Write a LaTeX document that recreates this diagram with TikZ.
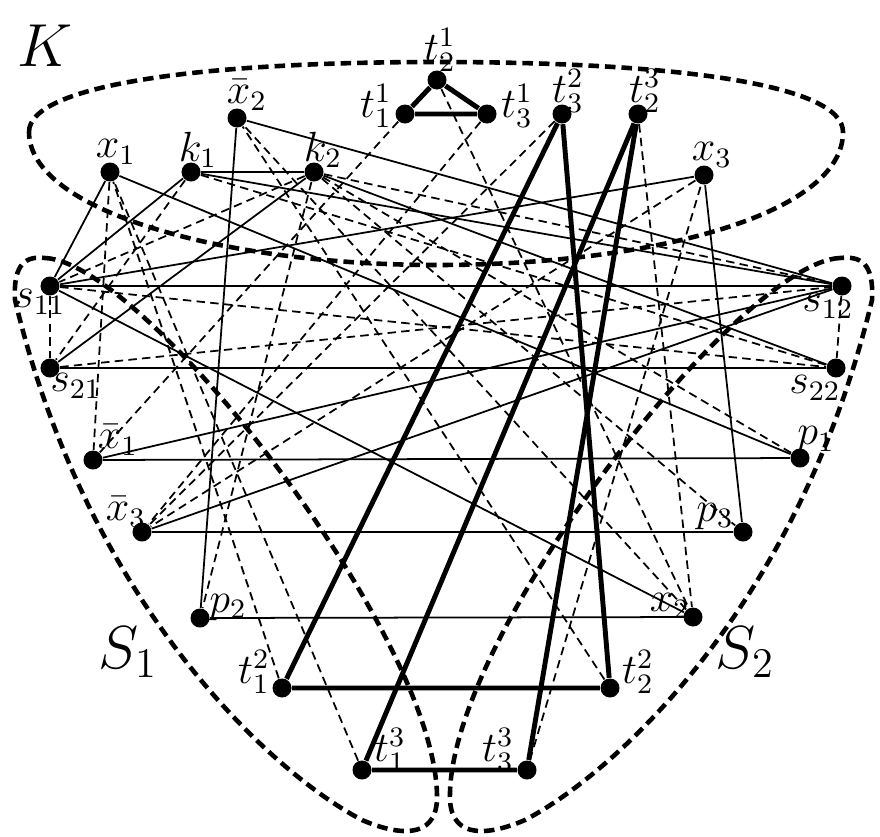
\documentclass[tikz,border=0pt]{standalone}
\usepackage{amsmath,amssymb}
\usetikzlibrary{positioning}

\begin{document}
\begin{tikzpicture}[x=0.01cm,y=-0.01cm,
  vtx/.style={circle,fill=black,inner sep=0pt,minimum size=0.19cm},
  lbl/.style={inner sep=0pt,font=\large},
  big/.style={inner sep=0pt,font=\LARGE},
  sol/.style={line width=0.5pt},
  dsh/.style={line width=0.5pt,dash pattern=on 2.4pt off 1.5pt},
  thk/.style={line width=1.4pt},
  region/.style={line width=1.3pt,dash pattern=on 3pt off 1.7pt}]
\useasboundingbox (0,0) rectangle (880,836);

% the three parts
\draw[region] (29,132) .. controls (29,85) and (200,62) .. (437,62)
  .. controls (680,62) and (843,85) .. (843,132)
  .. controls (843,215) and (650,265) .. (437,265)
  .. controls (220,265) and (29,210) .. (29,132) -- cycle;
\draw[region] (45,258) .. controls (145,262) and (440,640) .. (437,800)
  .. controls (435,840) and (397,835) .. (362,820)
  .. controls (267,770) and (87,600) .. (15,300)
  .. controls (13,262) and (27,256) .. (45,258) -- cycle;
\draw[region] (840,258) .. controls (740,262) and (445,640) .. (450,800)
  .. controls (452,840) and (490,835) .. (525,820)
  .. controls (620,770) and (800,600) .. (872,300)
  .. controls (874,262) and (860,256) .. (840,258) -- cycle;
\node[big] (lK) at (45,46) {$K$};
\node[big] (lS1) at (128,652) {$S_1$};
\node[big] (lS2) at (745,652) {$S_2$};

% vertices
\node[vtx] (t21) at (437,80) {};
\node[vtx] (t11) at (405,114) {};
\node[vtx] (t31) at (487,114) {};
\node[vtx] (nx2) at (237,118) {};
\node[vtx] (t32) at (562,114) {};
\node[vtx] (t23) at (638,114) {};
\node[vtx] (x1) at (110,172) {};
\node[vtx] (k1) at (191,172) {};
\node[vtx] (k2) at (314,172) {};
\node[vtx] (x3) at (704,175) {};
\node[vtx] (s11) at (50,286) {};
\node[vtx] (s12) at (842,286) {};
\node[vtx] (s21) at (50,368) {};
\node[vtx] (s22) at (836,368) {};
\node[vtx] (nx1) at (93,460) {};
\node[vtx] (p1) at (800,458) {};
\node[vtx] (nx3) at (142,532) {};
\node[vtx] (p3) at (743,532) {};
\node[vtx] (p2) at (200,618) {};
\node[vtx] (x2) at (693,617) {};
\node[vtx] (t12) at (282,688) {};
\node[vtx] (t22) at (610,688) {};
\node[vtx] (t13) at (362,770) {};
\node[vtx] (t33) at (527,770) {};

% labels
\node[lbl] at (440,50) {$t^1_2$};
\node[lbl] at (376,106) {$t^1_1$};
\node[lbl] at (517,106) {$t^1_3$};
\node[lbl] at (247,95) {$\bar{x}_2$};
\node[lbl] at (568,91) {$t^2_3$};
\node[lbl] at (645,91) {$t^3_2$};
\node[lbl] at (116,152) {$x_1$};
\node[lbl] at (198,150) {$k_1$};
\node[lbl] at (323,150) {$k_2$};
\node[lbl] at (712,155) {$x_3$};
\node[lbl] at (40,302) {$s_{11}$};
\node[lbl] at (828,306) {$s_{12}$};
\node[lbl] at (76,386) {$s_{21}$};
\node[lbl] at (815,388) {$s_{22}$};
\node[lbl] at (118,440) {$\bar{x}_1$};
\node[lbl] at (816,440) {$p_1$};
\node[lbl] at (126,512) {$\bar{x}_3$};
\node[lbl] at (715,516) {$p_3$};
\node[lbl] at (228,607) {$p_2$};
\node[lbl] at (670,606) {$x_2$};
\node[lbl] at (254,672) {$t^2_1$};
\node[lbl] at (638,672) {$t^2_2$};
\node[lbl] at (390,750) {$t^3_1$};
\node[lbl] at (498,750) {$t^3_3$};

% clause triangles
\draw[thk] (t11) -- (t21) -- (t31) -- (t11);
\draw[thk] (t12) -- (t22) -- (t32) -- (t12);
\draw[thk] (t13) -- (t33) -- (t23) -- (t13);

% solid edges
\draw[sol] (k1) -- (k2);
\draw[sol] (s11) -- (s12);
\draw[sol] (s21) -- (s22);
\draw[sol] (nx1) -- (p1);
\draw[sol] (nx3) -- (p3);
\draw[sol] (p2) -- (x2);
\draw[sol] (x1) -- (p1);
\draw[sol] (x3) -- (p3);
\draw[sol] (nx2) -- (p2);
\draw[sol] (x1) -- (s11);
\draw[sol] (x2) -- (s11);
\draw[sol] (x3) -- (s11);
\draw[sol] (nx1) -- (s12);
\draw[sol] (nx2) -- (s12);
\draw[sol] (nx3) -- (s12);
\draw[sol] (k1) -- (s11);
\draw[sol] (k1) -- (s12);
\draw[sol] (k2) -- (s21);
\draw[sol] (k2) -- (s22);

% dashed edges
\draw[dsh] (s11) -- (s21);
\draw[dsh] (s12) -- (s22);
\draw[dsh] (s11) -- (s22);
\draw[dsh] (s21) -- (s12);
\draw[dsh] (k1) -- (s21);
\draw[dsh] (k1) -- (s22);
\draw[dsh] (k2) -- (s11);
\draw[dsh] (k2) -- (s12);
\draw[dsh] (x1) -- (nx1);
\draw[dsh] (x2) -- (nx2);
\draw[dsh] (x3) -- (nx3);
\draw[dsh] (t11) -- (nx1);
\draw[dsh] (t21) -- (x2);
\draw[dsh] (t31) -- (nx3);
\draw[dsh] (t12) -- (x1);
\draw[dsh] (t22) -- (nx2);
\draw[dsh] (t32) -- (nx3);
\draw[dsh] (t13) -- (x1);
\draw[dsh] (t23) -- (x2);
\draw[dsh] (t33) -- (x3);
\draw[dsh] (k2) -- (p1);
\draw[dsh] (k2) -- (p2);
\draw[dsh] (k2) -- (p3);
\end{tikzpicture}
\end{document}
